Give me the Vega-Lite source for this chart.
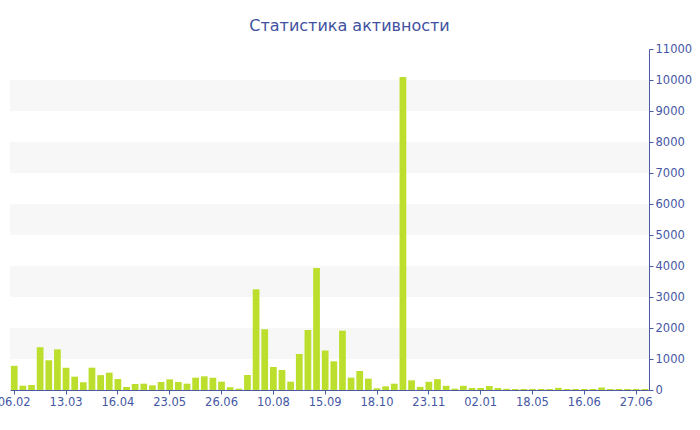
{
  "$schema": "https://vega.github.io/schema/vega-lite/v6.json",
  "width": 639,
  "height": 341,
  "autosize": {"type": "none"},
  "padding": {"left": 10, "top": 49, "right": 51, "bottom": 40},
  "background": "white",
  "title": {"text": "Статистика активности", "font": "DejaVu Sans", "fontSize": 16, "fontWeight": "normal", "color": "#3f51a0", "anchor": "middle", "dx": 20, "offset": 9},
  "config": {"view": {"stroke": null}},
  "layer": [
    {
      "data": {"values": [
        {"a": 1000, "b": 2000}, {"a": 3000, "b": 4000}, {"a": 5000, "b": 6000}, {"a": 7000, "b": 8000}, {"a": 9000, "b": 10000}
      ]},
      "mark": {"type": "rect", "color": "#f7f7f7"},
      "encoding": {
        "y": {"field": "a", "type": "quantitative", "scale": {"domain": [0, 11000], "nice": false},
          "axis": {"orient": "right", "values": [0, 1000, 2000, 3000, 4000, 5000, 6000, 7000, 8000, 9000, 10000, 11000], "format": "d", "labelOverlap": false, "title": null, "grid": false, "domainColor": "#4a5ba6", "tickColor": "#4a5ba6", "labelColor": "#4557a4", "labelFont": "DejaVu Sans", "labelFontSize": 11.5, "tickSize": 4, "labelPadding": 2, "labelFlush": false}},
        "y2": {"field": "b"}
      }
    },
    {
      "data": {"values": [
        {"i": 0, "v": 780}, {"i": 1, "v": 140}, {"i": 2, "v": 160}, {"i": 3, "v": 1380}, {"i": 4, "v": 960},
        {"i": 5, "v": 1310}, {"i": 6, "v": 720}, {"i": 7, "v": 430}, {"i": 8, "v": 250}, {"i": 9, "v": 720},
        {"i": 10, "v": 480}, {"i": 11, "v": 560}, {"i": 12, "v": 355}, {"i": 13, "v": 97}, {"i": 14, "v": 194},
        {"i": 15, "v": 204}, {"i": 16, "v": 150}, {"i": 17, "v": 258}, {"i": 18, "v": 344}, {"i": 19, "v": 258},
        {"i": 20, "v": 204}, {"i": 21, "v": 398}, {"i": 22, "v": 441}, {"i": 23, "v": 395}, {"i": 24, "v": 269},
        {"i": 25, "v": 90}, {"i": 26, "v": 43}, {"i": 27, "v": 484}, {"i": 28, "v": 3247}, {"i": 29, "v": 1957},
        {"i": 30, "v": 742}, {"i": 31, "v": 645}, {"i": 32, "v": 269}, {"i": 33, "v": 1161}, {"i": 34, "v": 1935},
        {"i": 35, "v": 3935}, {"i": 36, "v": 1275}, {"i": 37, "v": 925}, {"i": 38, "v": 1914}, {"i": 39, "v": 398},
        {"i": 40, "v": 613}, {"i": 41, "v": 366}, {"i": 42, "v": 54}, {"i": 43, "v": 118}, {"i": 44, "v": 204},
        {"i": 45, "v": 10100}, {"i": 46, "v": 312}, {"i": 47, "v": 100}, {"i": 48, "v": 265}, {"i": 49, "v": 350},
        {"i": 50, "v": 135}, {"i": 51, "v": 43}, {"i": 52, "v": 135}, {"i": 53, "v": 65}, {"i": 54, "v": 65},
        {"i": 55, "v": 130}, {"i": 56, "v": 65}, {"i": 57, "v": 38}, {"i": 58, "v": 32}, {"i": 59, "v": 32},
        {"i": 60, "v": 32}, {"i": 61, "v": 32}, {"i": 62, "v": 32}, {"i": 63, "v": 70}, {"i": 64, "v": 32},
        {"i": 65, "v": 32}, {"i": 66, "v": 32}, {"i": 67, "v": 32}, {"i": 68, "v": 80}, {"i": 69, "v": 32},
        {"i": 70, "v": 32}, {"i": 71, "v": 32}, {"i": 72, "v": 32}, {"i": 73, "v": 32}
      ]},
      "mark": {"type": "bar", "color": "#bbdf2c"},
      "encoding": {
        "x": {"field": "i", "type": "ordinal", "scale": {"paddingInner": 0.22, "paddingOuter": 0.1},
          "axis": {"values": [0, 6, 12, 18, 24, 30, 36, 42, 48, 54, 60, 66, 72], "labelExpr": "['06.02','13.03','16.04','23.05','26.06','10.08','15.09','18.10','23.11','02.01','18.05','16.06','27.06'][datum.value/6]", "labelAngle": 0, "title": null, "domainColor": "#4a5ba6", "tickColor": "#4a5ba6", "labelColor": "#4557a4", "labelFont": "DejaVu Sans", "labelFontSize": 11.5, "tickSize": 4, "labelPadding": 2}},
        "y": {"field": "v", "type": "quantitative", "title": null,
          "axis": {"orient": "right", "values": [0, 1000, 2000, 3000, 4000, 5000, 6000, 7000, 8000, 9000, 10000, 11000], "format": "d", "labelOverlap": false, "title": null, "grid": false, "domainColor": "#4a5ba6", "tickColor": "#4a5ba6", "labelColor": "#4557a4", "labelFont": "DejaVu Sans", "labelFontSize": 11.5, "tickSize": 4, "labelPadding": 2, "labelFlush": false}}
      }
    }
  ]
}
